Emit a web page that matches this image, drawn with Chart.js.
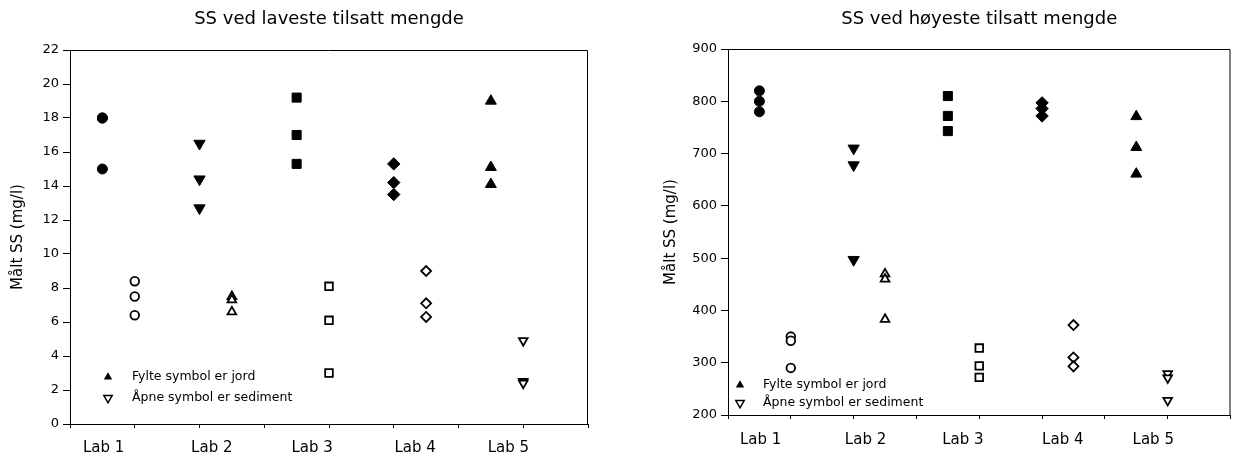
<!DOCTYPE html>
<html>
<head>
<meta charset="utf-8">
<script src="https://cdn.jsdelivr.net/npm/chart.js@4.4.0/dist/chart.umd.min.js"></script>
<style>
  body { margin: 0; background: #fff; }
  canvas { position: absolute; top: 0; }
</style>
</head>
<body>
<canvas id="lav" width="619" height="456" style="left:0"></canvas>
<canvas id="hoy" width="619" height="456" style="left:619px"></canvas>
<script>
// Laboratorier og plassering av navnene langs x-aksen
const labs = ['Lab 1', 'Lab 2', 'Lab 3', 'Lab 4', 'Lab 5'];
const labPos = [0.52, 2.19, 3.74, 5.33, 6.77];

// x-verdi for jord (fylte) og sediment (åpne) for hvert lab
const jordX = [0.5, 2, 3.5, 5, 6.5];
const sedimentX = [1, 2.5, 4, 5.5, 7];

// Målt SS (mg/l), laveste tilsatte mengde
const lavJord = [[18.0, 18.0, 15.0], [16.5, 14.4, 12.7], [19.2, 17.0, 15.3], [15.3, 14.2, 13.5], [19.0, 15.1, 14.1]];
const lavSediment = [[8.4, 7.5, 6.4], [7.5, 7.3, 6.6], [8.1, 6.1, 3.0], [9.0, 7.1, 6.3], [4.9, 2.5, 2.4]];

// Målt SS (mg/l), høyeste tilsatte mengde
const hoyJord = [[820, 800, 780], [710, 678, 497], [810, 772, 743], [797, 786, 772], [771, 712, 661]];
const hoySediment = [[350, 342, 290], [470, 460, 383], [328, 294, 272], [372, 310, 293], [279, 271, 228]];

// symbol per lab
const jordStil = ['circle', 'triangle', 'rect', 'rectRot', 'triangle'];
const jordRot = [0, 180, 0, 0, 0];
const jordRad = [5, 6.5, 6.4, 6.2, 6.3];
const sedStil = ['circle', 'triangle', 'rect', 'rectRot', 'triangle'];
const sedRot = [0, 0, 0, 0, 180];
const sedRad = [4.3, 5, 5.4, 5, 5];

const FONT = '"DejaVu Sans", sans-serif';

const lagDatasett = (jord, sediment) => {
    const sets = [];
    labs.forEach((lab, i) => {
        sets.push({
            label: lab + ' jord',
            data: jord[i].map(v => ({ x: jordX[i], y: v })),
            pointStyle: jordStil[i],
            rotation: jordRot[i],
            pointRadius: jordRad[i],
            backgroundColor: '#000',
            borderColor: '#000',
            borderWidth: 1
        });
        sets.push({
            label: lab + ' sediment',
            data: sediment[i].map(v => ({ x: sedimentX[i], y: v })),
            pointStyle: sedStil[i],
            rotation: sedRot[i],
            pointRadius: sedRad[i],
            backgroundColor: '#fff',
            borderColor: '#000',
            borderWidth: 1.8
        });
    });
    return sets;
};

// ramme, lab-navn og forklaring
const ekstra = {
    id: 'ekstra',
    afterDraw(chart, args, opts) {
        const { ctx, chartArea: a, scales: { x } } = chart;
        ctx.save();
        ctx.strokeStyle = '#000';
        ctx.lineWidth = 1;
        ctx.beginPath();
        ctx.moveTo(a.left, a.top + 0.5);
        ctx.lineTo(a.right - 0.5, a.top + 0.5);
        ctx.lineTo(a.right - 0.5, a.bottom);
        ctx.stroke();

        ctx.fillStyle = '#000';
        ctx.font = '15px ' + FONT;
        ctx.textAlign = 'center';
        ctx.textBaseline = 'middle';
        labs.forEach((lab, i) => ctx.fillText(lab, x.getPixelForValue(labPos[i]), opts.labY));

        // forklaring nede til venstre
        const mx = a.left + opts.noteX;
        const tx = a.left + opts.noteTextX;
        const y1 = a.bottom - opts.noteY1;
        const y2 = a.bottom - opts.noteY2;
        const r = 4.8;
        ctx.beginPath();
        ctx.moveTo(mx, y1 - r);
        ctx.lineTo(mx + r * 0.866, y1 + r / 2);
        ctx.lineTo(mx - r * 0.866, y1 + r / 2);
        ctx.closePath();
        ctx.fill();
        ctx.beginPath();
        ctx.moveTo(mx, y2 + r);
        ctx.lineTo(mx + r * 0.866, y2 - r / 2);
        ctx.lineTo(mx - r * 0.866, y2 - r / 2);
        ctx.closePath();
        ctx.lineWidth = 1.5;
        ctx.stroke();
        ctx.font = '12.5px ' + FONT;
        ctx.textAlign = 'left';
        ctx.fillText('Fylte symbol er jord', tx, y1);
        ctx.fillText('Åpne symbol er sediment', tx, y2);
        ctx.restore();
    }
};

const lagFigur = (id, tittel, jord, sediment, y, opp) => {
    return new Chart(document.getElementById(id), {
        type: 'scatter',
        data: { datasets: lagDatasett(jord, sediment) },
        plugins: [ekstra],
        options: {
            responsive: false,
            animation: false,
            devicePixelRatio: 1,
            layout: { padding: { left: 0, right: opp.right, top: 0, bottom: 0 } },
            plugins: {
                legend: { display: false },
                tooltip: { enabled: false },
                title: {
                    display: true,
                    text: tittel,
                    fullSize: false,
                    color: '#000',
                    font: { family: FONT, size: 18, weight: 'normal', lineHeight: 1.2 },
                    padding: { top: 8.5, bottom: opp.titleBottom }
                },
                ekstra: opp.note
            },
            scales: {
                x: {
                    type: 'linear',
                    min: 0,
                    max: 8,
                    ticks: { display: false, stepSize: 1 },
                    grid: { drawOnChartArea: false, color: '#000', tickLength: 4 },
                    border: { color: '#000', width: 1 },
                    afterFit: s => { s.height = opp.xHeight; }
                },
                y: {
                    min: y.min,
                    max: y.max,
                    ticks: { stepSize: y.step, color: '#000', padding: 4, font: { family: FONT, size: 13 } },
                    grid: { drawOnChartArea: false, color: '#000', tickLength: 7 },
                    border: { color: '#000', width: 1 },
                    title: {
                        display: true,
                        text: 'Målt SS (mg/l)',
                        color: '#000',
                        font: { family: FONT, size: 15, lineHeight: 1.2 },
                        padding: { top: opp.yTitle, bottom: 0 }
                    },
                    afterFit: s => { s.width = opp.yWidth; }
                }
            }
        }
    });
};

lagFigur('lav', 'SS ved laveste tilsatt mengde', lavJord, lavSediment,
    { min: 0, max: 22, step: 2 },
    { right: 31, titleBottom: 19.9, xHeight: 32, yWidth: 70, yTitle: 9,
      note: { labY: 448, noteX: 38, noteTextX: 62, noteY1: 47, noteY2: 26 } });

lagFigur('hoy', 'SS ved høyeste tilsatt mengde', hoyJord, hoySediment,
    { min: 200, max: 900, step: 100 },
    { right: 1, titleBottom: 18.9, xHeight: 41, yWidth: 109, yTitle: 43,
      note: { labY: 440, noteX: 12, noteTextX: 35, noteY1: 30, noteY2: 12 } });
</script>
</body>
</html>
